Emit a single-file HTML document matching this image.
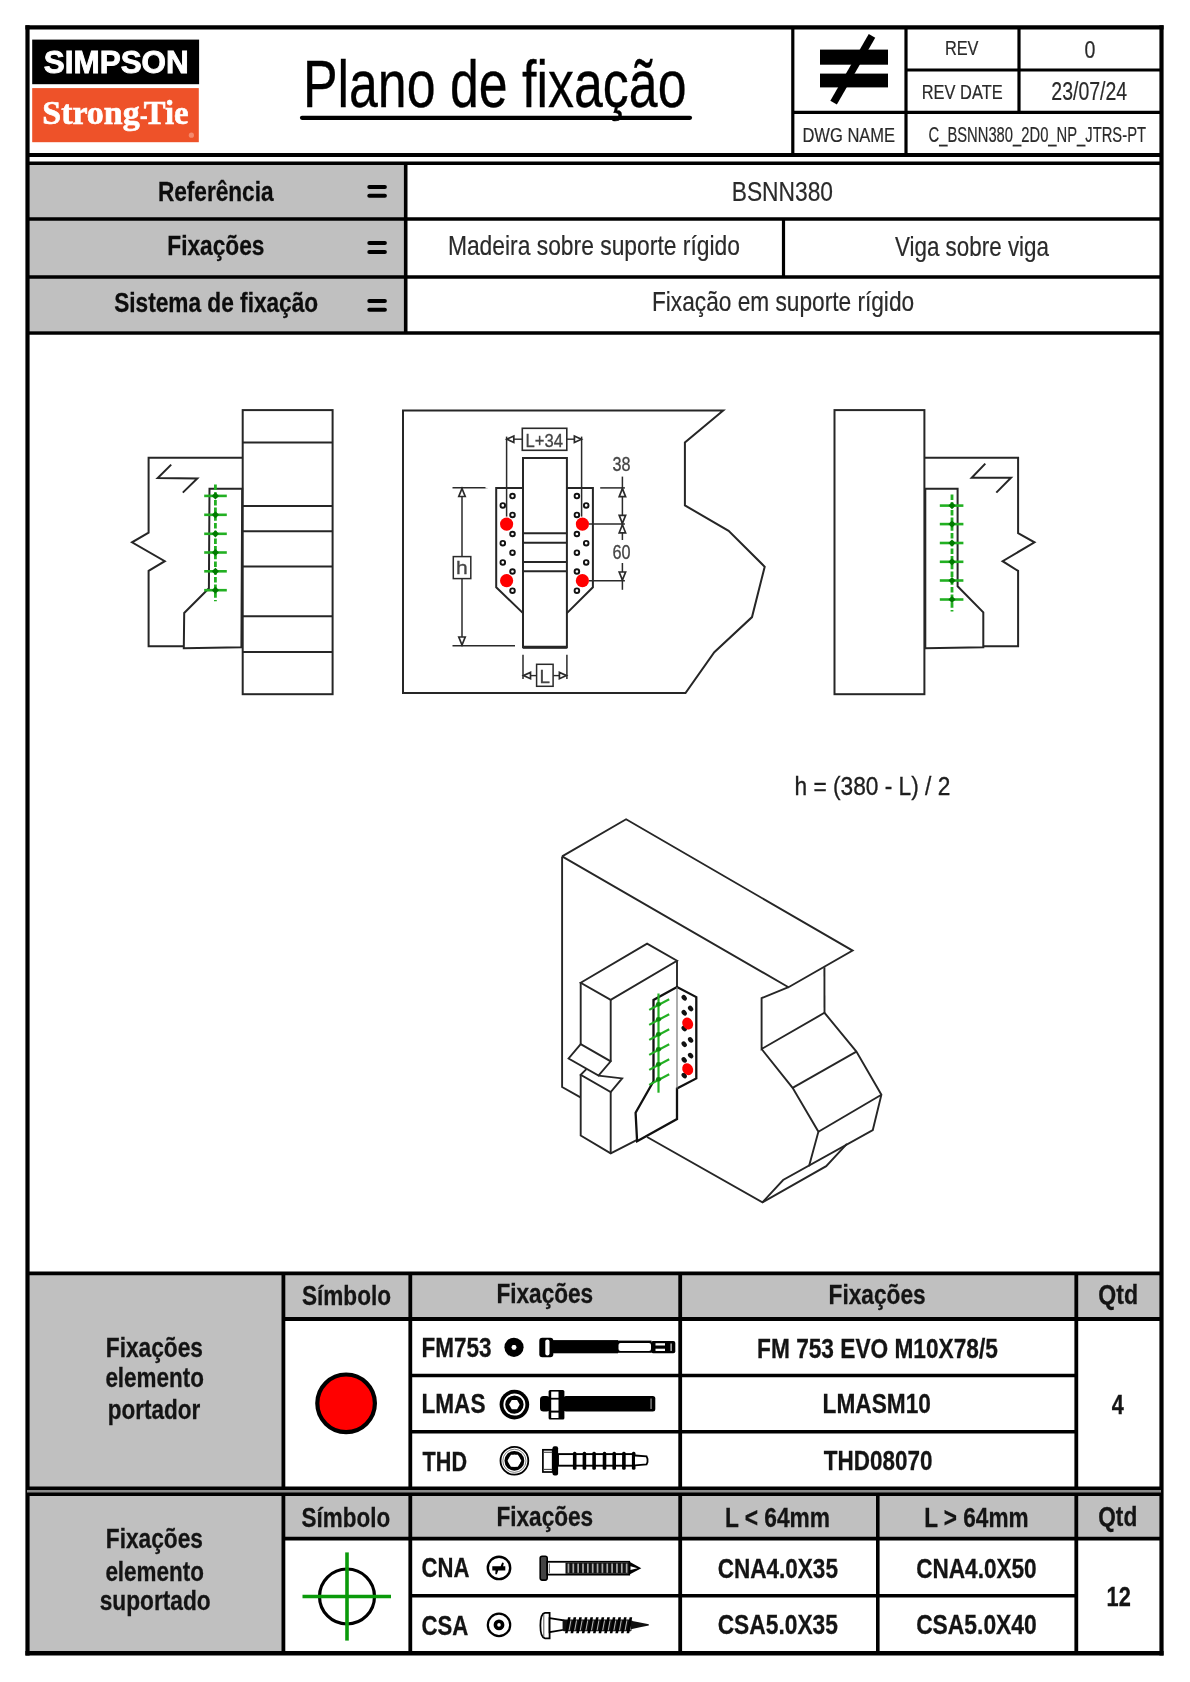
<!DOCTYPE html>
<html><head><meta charset="utf-8"><title>Plano de fixação</title><style>html,body{margin:0;padding:0;background:#fff;}svg{display:block;will-change:transform;}</style></head><body>
<svg width="1190" height="1682" viewBox="0 0 1190 1682">
<rect width="1190" height="1682" fill="#fff"/>
<rect x="29" y="165" width="376" height="166" fill="#c0c0c0" stroke="none" stroke-width="0" />
<rect x="29" y="1275" width="254" height="212" fill="#c0c0c0" stroke="none" stroke-width="0" />
<rect x="283" y="1275" width="878" height="43" fill="#c0c0c0" stroke="none" stroke-width="0" />
<rect x="29" y="1495" width="254" height="157" fill="#c0c0c0" stroke="none" stroke-width="0" />
<rect x="283" y="1495" width="878" height="43" fill="#c0c0c0" stroke="none" stroke-width="0" />
<line x1="27.5" y1="25.3" x2="27.5" y2="1655.5" stroke="#000" stroke-width="4.2" />
<line x1="1161.5" y1="25.3" x2="1161.5" y2="1655.5" stroke="#000" stroke-width="4.2" />
<line x1="25.4" y1="27.4" x2="1163.6" y2="27.4" stroke="#000" stroke-width="4.2" />
<line x1="25.4" y1="1653.2" x2="1163.6" y2="1653.2" stroke="#000" stroke-width="4.5" />
<line x1="792.8" y1="27" x2="792.8" y2="155" stroke="#000" stroke-width="3.2" />
<line x1="906" y1="27" x2="906" y2="155" stroke="#000" stroke-width="3.2" />
<line x1="1019" y1="27" x2="1019" y2="112.4" stroke="#000" stroke-width="3.2" />
<line x1="906" y1="70" x2="1161" y2="70" stroke="#000" stroke-width="3.2" />
<line x1="792.8" y1="112.4" x2="1161" y2="112.4" stroke="#000" stroke-width="3.2" />
<line x1="27" y1="155" x2="1161" y2="155" stroke="#000" stroke-width="3.8" />
<line x1="27" y1="163.3" x2="1161" y2="163.3" stroke="#000" stroke-width="3.4" />
<line x1="27" y1="219" x2="1161" y2="219" stroke="#000" stroke-width="3.6" />
<line x1="27" y1="277" x2="1161" y2="277" stroke="#000" stroke-width="3.6" />
<line x1="27" y1="333" x2="1161" y2="333" stroke="#000" stroke-width="3.6" />
<line x1="405.7" y1="163" x2="405.7" y2="333" stroke="#000" stroke-width="3.6" />
<line x1="783.5" y1="219" x2="783.5" y2="277" stroke="#000" stroke-width="3.2" />
<rect x="32.2" y="39.6" width="166.9" height="44.6" fill="#000" stroke="none" stroke-width="0" />
<rect x="32.2" y="88.1" width="166.6" height="54.1" fill="#ee5229" stroke="none" stroke-width="0" />
<text x="43.84" y="73.00" font-family='"Liberation Sans", sans-serif' font-size="31.00" font-weight="bold" fill="#fff" stroke="#fff" stroke-width="0.9" textLength="144.94" lengthAdjust="spacingAndGlyphs" >SIMPSON</text>
<text x="42.29" y="124.30" font-family='"Liberation Serif", serif' font-size="33.80" font-weight="bold" fill="#fff" stroke="#fff" stroke-width="0.7" textLength="97.31" lengthAdjust="spacingAndGlyphs" >Strong</text>
<text x="143.74" y="124.30" font-family='"Liberation Serif", serif' font-size="33.80" font-weight="bold" fill="#fff" stroke="#fff" stroke-width="0.7" textLength="44.66" lengthAdjust="spacingAndGlyphs" >Tie</text>
<rect x="140.4" y="116.2" width="6.6" height="3.0" fill="#fff" stroke="none" stroke-width="0" />
<circle cx="191.4" cy="135.2" r="2.6" fill="#f48a6e" stroke="none" stroke-width="0" />
<text x="302.88" y="107.10" font-family='"Liberation Sans", sans-serif' font-size="65.80" font-weight="normal" fill="#000" stroke="#000" stroke-width="0.35" textLength="383.65" lengthAdjust="spacingAndGlyphs" >Plano de fixação</text>
<line x1="302" y1="117.8" x2="690" y2="117.8" stroke="#000" stroke-width="4.2" stroke-linecap="round"/>
<rect x="820" y="49.6" width="68" height="15.1" fill="#000" stroke="none" stroke-width="0" />
<rect x="820" y="73.6" width="68" height="13.8" fill="#000" stroke="none" stroke-width="0" />
<line x1="872" y1="35.8" x2="833.6" y2="102.6" stroke="#000" stroke-width="7.5" />
<text x="944.88" y="55.00" font-family='"Liberation Sans", sans-serif' font-size="19.90" font-weight="normal" fill="#2a2a2a" stroke="#2a2a2a" stroke-width="0.2" textLength="33.65" lengthAdjust="spacingAndGlyphs" >REV</text>
<text x="1084.52" y="57.60" font-family='"Liberation Sans", sans-serif' font-size="24.00" font-weight="normal" fill="#2a2a2a" stroke="#2a2a2a" stroke-width="0.2" textLength="10.89" lengthAdjust="spacingAndGlyphs" >0</text>
<text x="921.78" y="99.20" font-family='"Liberation Sans", sans-serif' font-size="19.90" font-weight="normal" fill="#2a2a2a" stroke="#2a2a2a" stroke-width="0.2" textLength="80.85" lengthAdjust="spacingAndGlyphs" >REV DATE</text>
<text x="1051.35" y="99.60" font-family='"Liberation Sans", sans-serif' font-size="25.70" font-weight="normal" fill="#2a2a2a" stroke="#2a2a2a" stroke-width="0.2" textLength="75.80" lengthAdjust="spacingAndGlyphs" >23/07/24</text>
<text x="802.43" y="142.00" font-family='"Liberation Sans", sans-serif' font-size="20.90" font-weight="normal" fill="#2a2a2a" stroke="#2a2a2a" stroke-width="0.2" textLength="92.71" lengthAdjust="spacingAndGlyphs" >DWG NAME</text>
<text x="928.50" y="142.00" font-family='"Liberation Sans", sans-serif' font-size="22.50" font-weight="normal" fill="#2a2a2a" stroke="#2a2a2a" stroke-width="0.2" textLength="217.51" lengthAdjust="spacingAndGlyphs" >C_BSNN380_2D0_NP_JTRS-PT</text>
<text x="157.90" y="201.20" font-family='"Liberation Sans", sans-serif' font-size="28.30" font-weight="bold" fill="#0d0d0d" stroke="#0d0d0d" stroke-width="0.3" textLength="115.64" lengthAdjust="spacingAndGlyphs" >Referência</text>
<text x="167.30" y="255.00" font-family='"Liberation Sans", sans-serif' font-size="28.30" font-weight="bold" fill="#0d0d0d" stroke="#0d0d0d" stroke-width="0.3" textLength="97.15" lengthAdjust="spacingAndGlyphs" >Fixações</text>
<text x="114.21" y="312.00" font-family='"Liberation Sans", sans-serif' font-size="28.30" font-weight="bold" fill="#0d0d0d" stroke="#0d0d0d" stroke-width="0.3" textLength="203.94" lengthAdjust="spacingAndGlyphs" >Sistema de fixação</text>
<rect x="367.3" y="185.0" width="19.6" height="4.0" fill="#000" stroke="none" stroke-width="0" rx="2"/>
<rect x="367.3" y="193.79999999999998" width="19.6" height="4.0" fill="#000" stroke="none" stroke-width="0" rx="2"/>
<rect x="367.3" y="241.10000000000002" width="19.6" height="4.0" fill="#000" stroke="none" stroke-width="0" rx="2"/>
<rect x="367.3" y="249.9" width="19.6" height="4.0" fill="#000" stroke="none" stroke-width="0" rx="2"/>
<rect x="367.3" y="299.0" width="19.6" height="4.0" fill="#000" stroke="none" stroke-width="0" rx="2"/>
<rect x="367.3" y="307.8" width="19.6" height="4.0" fill="#000" stroke="none" stroke-width="0" rx="2"/>
<text x="731.68" y="200.80" font-family='"Liberation Sans", sans-serif' font-size="28.00" font-weight="normal" fill="#2a2a2a" stroke="#2a2a2a" stroke-width="0.2" textLength="101.38" lengthAdjust="spacingAndGlyphs" >BSNN380</text>
<text x="447.88" y="255.00" font-family='"Liberation Sans", sans-serif' font-size="28.30" font-weight="normal" fill="#2a2a2a" stroke="#2a2a2a" stroke-width="0.2" textLength="292.05" lengthAdjust="spacingAndGlyphs" >Madeira sobre suporte rígido</text>
<text x="894.90" y="256.00" font-family='"Liberation Sans", sans-serif' font-size="28.30" font-weight="normal" fill="#2a2a2a" stroke="#2a2a2a" stroke-width="0.2" textLength="154.15" lengthAdjust="spacingAndGlyphs" >Viga sobre viga</text>
<text x="651.99" y="311.00" font-family='"Liberation Sans", sans-serif' font-size="28.30" font-weight="normal" fill="#2a2a2a" stroke="#2a2a2a" stroke-width="0.2" textLength="262.16" lengthAdjust="spacingAndGlyphs" >Fixação em suporte rígido</text>
<rect x="242.7" y="410.1" width="89.9" height="284.1" fill="none" stroke="#262626" stroke-width="2.0" />
<line x1="242.7" y1="442.4" x2="332.6" y2="442.4" stroke="#262626" stroke-width="2.0" />
<line x1="242.7" y1="506.1" x2="332.6" y2="506.1" stroke="#262626" stroke-width="2.0" />
<line x1="242.7" y1="531.3" x2="332.6" y2="531.3" stroke="#262626" stroke-width="2.0" />
<line x1="242.7" y1="566.6" x2="332.6" y2="566.6" stroke="#262626" stroke-width="2.0" />
<line x1="242.7" y1="616.3" x2="332.6" y2="616.3" stroke="#262626" stroke-width="2.0" />
<line x1="242.7" y1="652.1" x2="332.6" y2="652.1" stroke="#262626" stroke-width="2.0" />
<polyline points="242.7,457.8 148.6,457.8 148.6,532.6 132,542.3 164.8,561.2 148.6,570.9 148.6,646.3 183.8,646.3" fill="none" stroke="#262626" stroke-width="2.0" stroke-linejoin="miter" />
<polygon points="183.8,648.2 184.2,613 208.9,588.3 209.5,488.7 242.2,488.7 241.4,647.2" fill="none" stroke="#262626" stroke-width="2.0" stroke-linejoin="miter" />
<polyline points="171.2,464.6 157.7,478.1 197.3,478.5 182.8,492.6" fill="none" stroke="#262626" stroke-width="2.0" stroke-linejoin="miter" />
<line x1="215.4" y1="484.5" x2="215.4" y2="601.2" stroke="#22b022" stroke-width="2.8" stroke-dasharray="5.5,2.2"/>
<line x1="204.2" y1="495.9" x2="226.8" y2="495.9" stroke="#22b022" stroke-width="2.6" />
<polygon points="211.8,495.9 215.4,492.29999999999995 219.0,495.9 215.4,499.5" fill="#007a00"/>
<line x1="204.2" y1="514.8" x2="226.8" y2="514.8" stroke="#22b022" stroke-width="2.6" />
<polygon points="211.8,514.8 215.4,511.19999999999993 219.0,514.8 215.4,518.4" fill="#007a00"/>
<line x1="204.2" y1="533.8" x2="226.8" y2="533.8" stroke="#22b022" stroke-width="2.6" />
<polygon points="211.8,533.8 215.4,530.1999999999999 219.0,533.8 215.4,537.4" fill="#007a00"/>
<line x1="204.2" y1="552.5" x2="226.8" y2="552.5" stroke="#22b022" stroke-width="2.6" />
<polygon points="211.8,552.5 215.4,548.9 219.0,552.5 215.4,556.1" fill="#007a00"/>
<line x1="204.2" y1="571.3" x2="226.8" y2="571.3" stroke="#22b022" stroke-width="2.6" />
<polygon points="211.8,571.3 215.4,567.6999999999999 219.0,571.3 215.4,574.9" fill="#007a00"/>
<line x1="204.2" y1="590.2" x2="226.8" y2="590.2" stroke="#22b022" stroke-width="2.6" />
<polygon points="211.8,590.2 215.4,586.6 219.0,590.2 215.4,593.8000000000001" fill="#007a00"/>
<polygon points="403,410.5 723.2,410.5 684.9,442.5 684.9,505.4 728.6,530.9 764.7,566.7 752,617.1 714.3,652.2 685.5,693.1 403,693.1" fill="none" stroke="#262626" stroke-width="2.0" stroke-linejoin="miter" />
<rect x="523" y="458" width="43.9" height="189.3" fill="none" stroke="#262626" stroke-width="2.0" />
<line x1="523" y1="647.3" x2="566.9" y2="647.3" stroke="#262626" stroke-width="3" />
<line x1="523" y1="533.2" x2="566.9" y2="533.2" stroke="#262626" stroke-width="2.0" />
<line x1="523" y1="542.7" x2="566.9" y2="542.7" stroke="#262626" stroke-width="2.0" />
<line x1="523" y1="561.9" x2="566.9" y2="561.9" stroke="#262626" stroke-width="2.0" />
<line x1="523" y1="571.2" x2="566.9" y2="571.2" stroke="#262626" stroke-width="2.0" />
<polyline points="523,487.9 496.2,487.9 496.2,587.3 523,613.1" fill="none" stroke="#262626" stroke-width="2.0" stroke-linejoin="miter" />
<polyline points="566.9,487.9 592.9,487.9 592.9,587.3 566.9,613.1" fill="none" stroke="#262626" stroke-width="2.0" stroke-linejoin="miter" />
<circle cx="512.5" cy="496.1" r="2.3" fill="#fff" stroke="#111" stroke-width="1.9" />
<circle cx="502.8" cy="505.4" r="2.3" fill="#fff" stroke="#111" stroke-width="1.9" />
<circle cx="512.5" cy="514.9" r="2.3" fill="#fff" stroke="#111" stroke-width="1.9" />
<circle cx="512.5" cy="534" r="2.3" fill="#fff" stroke="#111" stroke-width="1.9" />
<circle cx="502.8" cy="543.2" r="2.3" fill="#fff" stroke="#111" stroke-width="1.9" />
<circle cx="512.5" cy="552.7" r="2.3" fill="#fff" stroke="#111" stroke-width="1.9" />
<circle cx="502.8" cy="562.4" r="2.3" fill="#fff" stroke="#111" stroke-width="1.9" />
<circle cx="512.5" cy="571.5" r="2.3" fill="#fff" stroke="#111" stroke-width="1.9" />
<circle cx="512.5" cy="590.7" r="2.3" fill="#fff" stroke="#111" stroke-width="1.9" />
<circle cx="576.9" cy="496.1" r="2.3" fill="#fff" stroke="#111" stroke-width="1.9" />
<circle cx="586.2" cy="505.4" r="2.3" fill="#fff" stroke="#111" stroke-width="1.9" />
<circle cx="576.9" cy="514.9" r="2.3" fill="#fff" stroke="#111" stroke-width="1.9" />
<circle cx="576.9" cy="534" r="2.3" fill="#fff" stroke="#111" stroke-width="1.9" />
<circle cx="586.2" cy="543.2" r="2.3" fill="#fff" stroke="#111" stroke-width="1.9" />
<circle cx="576.9" cy="552.7" r="2.3" fill="#fff" stroke="#111" stroke-width="1.9" />
<circle cx="586.2" cy="562.4" r="2.3" fill="#fff" stroke="#111" stroke-width="1.9" />
<circle cx="576.9" cy="571.5" r="2.3" fill="#fff" stroke="#111" stroke-width="1.9" />
<circle cx="576.9" cy="590.7" r="2.3" fill="#fff" stroke="#111" stroke-width="1.9" />
<circle cx="506.6" cy="524.1" r="6.6" fill="#f00" stroke="none" stroke-width="0" />
<circle cx="506.6" cy="580.7" r="6.6" fill="#f00" stroke="none" stroke-width="0" />
<circle cx="582.4" cy="524.1" r="6.6" fill="#f00" stroke="none" stroke-width="0" />
<circle cx="582.4" cy="580.7" r="6.6" fill="#f00" stroke="none" stroke-width="0" />
<rect x="522.3" y="428.3" width="44.5" height="22" fill="none" stroke="#2a2a2a" stroke-width="1.6" />
<text x="525.43" y="447.00" font-family='"Liberation Sans", sans-serif' font-size="18.00" font-weight="normal" fill="#444" stroke="#444" stroke-width="0.3" textLength="37.47" lengthAdjust="spacingAndGlyphs" >L+34</text>
<line x1="506.6" y1="436.6" x2="506.6" y2="516.6" stroke="#2a2a2a" stroke-width="1.5" />
<line x1="581.6" y1="436.6" x2="581.6" y2="516.6" stroke="#2a2a2a" stroke-width="1.5" />
<line x1="506.6" y1="439.2" x2="522.3" y2="439.2" stroke="#2a2a2a" stroke-width="1.4" />
<line x1="566.8" y1="439.2" x2="581.6" y2="439.2" stroke="#2a2a2a" stroke-width="1.4" />
<polygon points="506.8,439.2 513.8,436.0 513.8,442.4" fill="#fff" stroke="#2a2a2a" stroke-width="1.7" stroke-linejoin="miter" />
<polygon points="581.4,439.2 574.4,442.4 574.4,436.0" fill="#fff" stroke="#2a2a2a" stroke-width="1.7" stroke-linejoin="miter" />
<line x1="462" y1="487.8" x2="462" y2="645.8" stroke="#2a2a2a" stroke-width="1.5" />
<line x1="452.5" y1="487.8" x2="487.6" y2="487.8" stroke="#2a2a2a" stroke-width="1.5" />
<line x1="452.5" y1="645.8" x2="515" y2="645.8" stroke="#2a2a2a" stroke-width="1.5" />
<line x1="485.5" y1="487.8" x2="492" y2="487.8" stroke="#fff" stroke-width="1.5" />
<polygon points="462,488.5 465.2,496.5 458.8,496.5" fill="#fff" stroke="#2a2a2a" stroke-width="1.7" stroke-linejoin="miter" />
<polygon points="462,645 458.8,637.0 465.2,637.0" fill="#fff" stroke="#2a2a2a" stroke-width="1.7" stroke-linejoin="miter" />
<rect x="453.3" y="556.6" width="17.5" height="22" fill="#fff" stroke="#2a2a2a" stroke-width="1.5" />
<text x="456.09" y="574.30" font-family='"Liberation Sans", sans-serif' font-size="18.50" font-weight="normal" fill="#444" stroke="#444" stroke-width="0.3" textLength="11.71" lengthAdjust="spacingAndGlyphs" >h</text>
<line x1="622.4" y1="476.6" x2="622.4" y2="540" stroke="#2a2a2a" stroke-width="1.5" />
<line x1="622.4" y1="563" x2="622.4" y2="589.8" stroke="#2a2a2a" stroke-width="1.5" />
<line x1="600.2" y1="487.9" x2="624.9" y2="487.9" stroke="#2a2a2a" stroke-width="1.5" />
<line x1="589" y1="524.1" x2="624.9" y2="524.1" stroke="#2a2a2a" stroke-width="1.5" />
<line x1="589" y1="580.7" x2="624.9" y2="580.7" stroke="#2a2a2a" stroke-width="1.5" />
<polygon points="622.4,488.6 625.6,496.6 619.1999999999999,496.6" fill="#fff" stroke="#2a2a2a" stroke-width="1.7" stroke-linejoin="miter" />
<polygon points="622.4,523.4 619.1999999999999,515.4 625.6,515.4" fill="#fff" stroke="#2a2a2a" stroke-width="1.7" stroke-linejoin="miter" />
<polygon points="622.4,524.8 625.6,532.8 619.1999999999999,532.8" fill="#fff" stroke="#2a2a2a" stroke-width="1.7" stroke-linejoin="miter" />
<polygon points="622.4,580 619.1999999999999,572.0 625.6,572.0" fill="#fff" stroke="#2a2a2a" stroke-width="1.7" stroke-linejoin="miter" />
<text x="612.55" y="471.00" font-family='"Liberation Sans", sans-serif' font-size="19.50" font-weight="normal" fill="#444" stroke="#444" stroke-width="0.3" textLength="18.01" lengthAdjust="spacingAndGlyphs" >38</text>
<text x="612.47" y="559.20" font-family='"Liberation Sans", sans-serif' font-size="19.50" font-weight="normal" fill="#444" stroke="#444" stroke-width="0.3" textLength="18.07" lengthAdjust="spacingAndGlyphs" >60</text>
<line x1="523" y1="654.8" x2="523" y2="678.9" stroke="#2a2a2a" stroke-width="1.5" />
<line x1="566.9" y1="654.8" x2="566.9" y2="678.9" stroke="#2a2a2a" stroke-width="1.5" />
<polygon points="523.5,675.6 530.5,672.4 530.5,678.8000000000001" fill="#fff" stroke="#2a2a2a" stroke-width="1.7" stroke-linejoin="miter" />
<polygon points="566.4,675.6 559.4,678.8000000000001 559.4,672.4" fill="#fff" stroke="#2a2a2a" stroke-width="1.7" stroke-linejoin="miter" />
<line x1="530" y1="675.6" x2="536.3" y2="675.6" stroke="#2a2a2a" stroke-width="1.4" />
<line x1="553.3" y1="675.6" x2="560" y2="675.6" stroke="#2a2a2a" stroke-width="1.4" />
<rect x="536.6" y="664.3" width="16.5" height="22" fill="none" stroke="#2a2a2a" stroke-width="1.5" />
<text x="539.61" y="683.00" font-family='"Liberation Sans", sans-serif' font-size="18.50" font-weight="normal" fill="#444" stroke="#444" stroke-width="0.3" textLength="10.48" lengthAdjust="spacingAndGlyphs" >L</text>
<rect x="834.5" y="410.1" width="89.9" height="284.1" fill="none" stroke="#262626" stroke-width="2.0" />
<polyline points="924.4,457.8 1018.1,457.8 1018.1,533.2 1034.5,542.3 1002.6,561.2 1018.1,570.9 1018.1,646.3 983.3,646.3" fill="none" stroke="#262626" stroke-width="2.0" stroke-linejoin="miter" />
<polygon points="925.3,488.7 957.6,488.7 957.6,586.3 983.3,612.4 983.3,647.2 925.3,648.2" fill="none" stroke="#262626" stroke-width="2.0" stroke-linejoin="miter" />
<polyline points="985.3,463.6 971.7,477.7 1011,477.7 996.3,492.6" fill="none" stroke="#262626" stroke-width="2.0" stroke-linejoin="miter" />
<line x1="952" y1="494.5" x2="952" y2="611.5" stroke="#22b022" stroke-width="2.8" stroke-dasharray="5.5,2.2"/>
<line x1="939.8" y1="505.6" x2="963.4" y2="505.6" stroke="#22b022" stroke-width="2.6" />
<polygon points="948.4,505.6 952,502.0 955.6,505.6 952,509.20000000000005" fill="#007a00"/>
<line x1="939.8" y1="524.1" x2="963.4" y2="524.1" stroke="#22b022" stroke-width="2.6" />
<polygon points="948.4,524.1 952,520.5 955.6,524.1 952,527.7" fill="#007a00"/>
<line x1="939.8" y1="543" x2="963.4" y2="543" stroke="#22b022" stroke-width="2.6" />
<polygon points="948.4,543 952,539.4 955.6,543 952,546.6" fill="#007a00"/>
<line x1="939.8" y1="561.8" x2="963.4" y2="561.8" stroke="#22b022" stroke-width="2.6" />
<polygon points="948.4,561.8 952,558.1999999999999 955.6,561.8 952,565.4" fill="#007a00"/>
<line x1="939.8" y1="580.5" x2="963.4" y2="580.5" stroke="#22b022" stroke-width="2.6" />
<polygon points="948.4,580.5 952,576.9 955.6,580.5 952,584.1" fill="#007a00"/>
<line x1="939.8" y1="599.5" x2="963.4" y2="599.5" stroke="#22b022" stroke-width="2.6" />
<polygon points="948.4,599.5 952,595.9 955.6,599.5 952,603.1" fill="#007a00"/>
<text x="794.48" y="794.80" font-family='"Liberation Sans", sans-serif' font-size="26.30" font-weight="normal" fill="#1e1e1e" stroke="#1e1e1e" stroke-width="0.35" textLength="155.83" lengthAdjust="spacingAndGlyphs" >h = (380 - L) / 2</text>
<polyline points="562.1,856.4 626.1,819.3 852.6,950.6 788.5,987.2 562.1,856.4" fill="none" stroke="#262626" stroke-width="1.9" stroke-linejoin="miter" />
<polyline points="562.1,856.4 562.1,1087 580.5,1097.3" fill="none" stroke="#262626" stroke-width="1.9" stroke-linejoin="miter" />
<line x1="824.4" y1="967.2" x2="824.5" y2="1012.8" stroke="#262626" stroke-width="1.9" />
<polyline points="788.5,987.2 761.6,998.1 761.6,1049 824.5,1012.8 856.4,1051.6 881.4,1094.7 872.8,1130 783.1,1180 762.4,1202.4 647.1,1137" fill="none" stroke="#262626" stroke-width="1.9" stroke-linejoin="miter" />
<polyline points="761.6,1049 792.6,1087.8 818.4,1131.7 809,1166.2" fill="none" stroke="#262626" stroke-width="1.9" stroke-linejoin="miter" />
<line x1="792.6" y1="1087.8" x2="856.4" y2="1051.6" stroke="#262626" stroke-width="1.9" />
<line x1="818.4" y1="1131.7" x2="881.4" y2="1094.7" stroke="#262626" stroke-width="1.9" />
<polyline points="846.9,1143.8 826.2,1166.2 762.4,1202.4" fill="none" stroke="#262626" stroke-width="1.9" stroke-linejoin="miter" />
<polygon points="580.7,982.8 647.1,943.6 677,960.7 610.7,999.9 580.7,982.8" fill="#fff" stroke="#262626" stroke-width="1.9" stroke-linejoin="miter" />
<line x1="580.7" y1="982.8" x2="580.7" y2="1044.2" stroke="#262626" stroke-width="1.9" />
<line x1="610.7" y1="999.9" x2="610.7" y2="1061.3" stroke="#262626" stroke-width="1.9" />
<line x1="677" y1="960.7" x2="677" y2="987.1" stroke="#262626" stroke-width="1.9" />
<polyline points="580.7,1044.2 568.6,1058.5 598.5,1075.6 610.7,1061.3 580.7,1044.2" fill="none" stroke="#262626" stroke-width="1.9" stroke-linejoin="miter" />
<polyline points="598.5,1075.6 622.1,1078.4 610.7,1092 580.7,1074.9 586.4,1069.2" fill="none" stroke="#262626" stroke-width="1.9" stroke-linejoin="miter" />
<polyline points="580.7,1074.9 580.7,1135.5 610.7,1153.4 637.1,1139.8" fill="none" stroke="#262626" stroke-width="1.9" stroke-linejoin="miter" />
<line x1="610.7" y1="1092" x2="610.7" y2="1153.4" stroke="#262626" stroke-width="1.9" />
<polygon points="637.1,1141.2 677,1119.1 677,1088.4 696.3,1078.4 696.3,997.1 677,987.1 653.5,999.9 653.5,1081.3 635.6,1112.7 637.1,1141.2" fill="#fff" stroke="#111" stroke-width="2.3" stroke-linejoin="miter" />
<line x1="677" y1="987.1" x2="677" y2="1088.4" stroke="#777" stroke-width="1.2" />
<ellipse cx="684.2" cy="997.8" rx="2.3" ry="3.1" fill="#111" transform="rotate(-40 684.2 997.8)"/>
<ellipse cx="690.6" cy="1008.5" rx="2.3" ry="3.1" fill="#111" transform="rotate(-40 690.6 1008.5)"/>
<ellipse cx="684.2" cy="1012.8" rx="2.3" ry="3.1" fill="#111" transform="rotate(-40 684.2 1012.8)"/>
<ellipse cx="684.2" cy="1028.5" rx="2.3" ry="3.1" fill="#111" transform="rotate(-40 684.2 1028.5)"/>
<ellipse cx="690.6" cy="1039.9" rx="2.3" ry="3.1" fill="#111" transform="rotate(-40 690.6 1039.9)"/>
<ellipse cx="684.2" cy="1044.2" rx="2.3" ry="3.1" fill="#111" transform="rotate(-40 684.2 1044.2)"/>
<ellipse cx="690.6" cy="1055.6" rx="2.3" ry="3.1" fill="#111" transform="rotate(-40 690.6 1055.6)"/>
<ellipse cx="684.2" cy="1059.9" rx="2.3" ry="3.1" fill="#111" transform="rotate(-40 684.2 1059.9)"/>
<ellipse cx="684.2" cy="1075.6" rx="2.3" ry="3.1" fill="#111" transform="rotate(-40 684.2 1075.6)"/>
<ellipse cx="687.7" cy="1023.5" rx="5.2" ry="6.2" fill="#f00" transform="rotate(-30 687.7 1023.5)"/>
<ellipse cx="687.7" cy="1069.2" rx="5.2" ry="6.2" fill="#f00" transform="rotate(-30 687.7 1069.2)"/>
<line x1="658.5" y1="993.5" x2="658.5" y2="1092.7" stroke="#22b022" stroke-width="2.2" />
<line x1="649.2" y1="1009.9000000000001" x2="669.2" y2="999.2" stroke="#22b022" stroke-width="2.2" />
<ellipse cx="658.5" cy="1004.2" rx="2.6" ry="2.2" fill="#0a8a0a"/>
<line x1="649.2" y1="1024.9" x2="669.2" y2="1014.2" stroke="#22b022" stroke-width="2.2" />
<ellipse cx="658.5" cy="1019.2" rx="2.6" ry="2.2" fill="#0a8a0a"/>
<line x1="649.2" y1="1039.9" x2="669.2" y2="1029.2" stroke="#22b022" stroke-width="2.2" />
<ellipse cx="658.5" cy="1034.2" rx="2.6" ry="2.2" fill="#0a8a0a"/>
<line x1="649.2" y1="1054.9" x2="669.2" y2="1044.2" stroke="#22b022" stroke-width="2.2" />
<ellipse cx="658.5" cy="1049.2" rx="2.6" ry="2.2" fill="#0a8a0a"/>
<line x1="649.2" y1="1069.9" x2="669.2" y2="1059.2" stroke="#22b022" stroke-width="2.2" />
<ellipse cx="658.5" cy="1064.2" rx="2.6" ry="2.2" fill="#0a8a0a"/>
<line x1="649.2" y1="1084.9" x2="669.2" y2="1074.2" stroke="#22b022" stroke-width="2.2" />
<ellipse cx="658.5" cy="1079.2" rx="2.6" ry="2.2" fill="#0a8a0a"/>
<line x1="27" y1="1273.4" x2="1161" y2="1273.4" stroke="#000" stroke-width="3.8" />
<line x1="283.4" y1="1273" x2="283.4" y2="1653" stroke="#000" stroke-width="3.8" />
<line x1="410.3" y1="1273" x2="410.3" y2="1653" stroke="#000" stroke-width="3.8" />
<line x1="680.2" y1="1273" x2="680.2" y2="1489" stroke="#000" stroke-width="3.8" />
<line x1="680.2" y1="1494" x2="680.2" y2="1653" stroke="#000" stroke-width="3.8" />
<line x1="1076.3" y1="1273" x2="1076.3" y2="1653" stroke="#000" stroke-width="3.8" />
<line x1="283" y1="1319" x2="1161" y2="1319" stroke="#000" stroke-width="3.8" />
<line x1="410" y1="1375.5" x2="1076" y2="1375.5" stroke="#000" stroke-width="3.6" />
<line x1="410" y1="1431.8" x2="1076" y2="1431.8" stroke="#000" stroke-width="3.6" />
<rect x="27" y="1489" width="1134" height="4.5" fill="#8c8c8c" stroke="none" stroke-width="0" />
<line x1="27" y1="1488.3" x2="1161" y2="1488.3" stroke="#000" stroke-width="3.4" />
<line x1="27" y1="1494.2" x2="1161" y2="1494.2" stroke="#000" stroke-width="3.4" />
<line x1="877.8" y1="1494" x2="877.8" y2="1653" stroke="#000" stroke-width="3.6" />
<line x1="283" y1="1538.7" x2="1161" y2="1538.7" stroke="#000" stroke-width="3.8" />
<line x1="410" y1="1595.8" x2="1076" y2="1595.8" stroke="#000" stroke-width="3.6" />
<text x="301.90" y="1305.30" font-family='"Liberation Sans", sans-serif' font-size="28.20" font-weight="bold" fill="#141414" stroke="#141414" stroke-width="0.3" textLength="89.15" lengthAdjust="spacingAndGlyphs" >Símbolo</text>
<text x="496.40" y="1303.30" font-family='"Liberation Sans", sans-serif' font-size="28.20" font-weight="bold" fill="#141414" stroke="#141414" stroke-width="0.3" textLength="96.79" lengthAdjust="spacingAndGlyphs" >Fixações</text>
<text x="828.60" y="1304.20" font-family='"Liberation Sans", sans-serif' font-size="28.20" font-weight="bold" fill="#141414" stroke="#141414" stroke-width="0.3" textLength="97.00" lengthAdjust="spacingAndGlyphs" >Fixações</text>
<text x="1098.23" y="1304.00" font-family='"Liberation Sans", sans-serif' font-size="28.20" font-weight="bold" fill="#141414" stroke="#141414" stroke-width="0.3" textLength="39.83" lengthAdjust="spacingAndGlyphs" >Qtd</text>
<text x="105.79" y="1357.00" font-family='"Liberation Sans", sans-serif' font-size="28.20" font-weight="bold" fill="#141414" stroke="#141414" stroke-width="0.3" textLength="97.20" lengthAdjust="spacingAndGlyphs" >Fixações</text>
<text x="105.38" y="1386.60" font-family='"Liberation Sans", sans-serif' font-size="28.20" font-weight="bold" fill="#141414" stroke="#141414" stroke-width="0.3" textLength="98.55" lengthAdjust="spacingAndGlyphs" >elemento</text>
<text x="107.70" y="1418.80" font-family='"Liberation Sans", sans-serif' font-size="28.20" font-weight="bold" fill="#141414" stroke="#141414" stroke-width="0.3" textLength="92.62" lengthAdjust="spacingAndGlyphs" >portador</text>
<circle cx="346.1" cy="1403.3" r="28.8" fill="#f00" stroke="#000" stroke-width="4.2" />
<text x="421.41" y="1357.20" font-family='"Liberation Sans", sans-serif' font-size="28.20" font-weight="bold" fill="#141414" stroke="#141414" stroke-width="0.3" textLength="70.00" lengthAdjust="spacingAndGlyphs" >FM753</text>
<text x="421.40" y="1413.40" font-family='"Liberation Sans", sans-serif' font-size="28.20" font-weight="bold" fill="#141414" stroke="#141414" stroke-width="0.3" textLength="64.09" lengthAdjust="spacingAndGlyphs" >LMAS</text>
<text x="422.62" y="1471.30" font-family='"Liberation Sans", sans-serif' font-size="28.20" font-weight="bold" fill="#141414" stroke="#141414" stroke-width="0.3" textLength="44.48" lengthAdjust="spacingAndGlyphs" >THD</text>
<text x="757.10" y="1358.00" font-family='"Liberation Sans", sans-serif' font-size="28.20" font-weight="bold" fill="#141414" stroke="#141414" stroke-width="0.3" textLength="240.75" lengthAdjust="spacingAndGlyphs" >FM 753 EVO M10X78/5</text>
<text x="822.60" y="1412.90" font-family='"Liberation Sans", sans-serif' font-size="28.20" font-weight="bold" fill="#141414" stroke="#141414" stroke-width="0.3" textLength="108.24" lengthAdjust="spacingAndGlyphs" >LMASM10</text>
<text x="823.82" y="1469.90" font-family='"Liberation Sans", sans-serif' font-size="28.20" font-weight="bold" fill="#141414" stroke="#141414" stroke-width="0.3" textLength="108.58" lengthAdjust="spacingAndGlyphs" >THD08070</text>
<text x="1111.78" y="1413.60" font-family='"Liberation Sans", sans-serif' font-size="28.20" font-weight="bold" fill="#141414" stroke="#141414" stroke-width="0.3" textLength="12.01" lengthAdjust="spacingAndGlyphs" >4</text>
<circle cx="514" cy="1347.3" r="9.6" fill="#000" stroke="none" stroke-width="0" />
<polygon points="516.70,1347.30 515.35,1349.64 512.65,1349.64 511.30,1347.30 512.65,1344.96 515.35,1344.96" fill="#fff"/>
<rect x="539.3" y="1337.8" width="14" height="19.4" fill="#000" stroke="none" stroke-width="0" rx="3"/>
<rect x="545.3" y="1339.6" width="4.2" height="15.8" fill="#fff" stroke="none" stroke-width="0" rx="2"/>
<rect x="553" y="1340.1" width="65" height="13.2" fill="#000" stroke="none" stroke-width="0" />
<rect x="617.5" y="1340.6" width="34" height="12.2" fill="#000" stroke="none" stroke-width="0" />
<rect x="618.5" y="1342.9" width="32.5" height="8" fill="#fff" stroke="none" stroke-width="0" rx="2"/>
<rect x="651" y="1340.9" width="24.3" height="12.4" fill="#000" stroke="none" stroke-width="0" rx="2"/>
<rect x="655.5" y="1343.2" width="9.5" height="2.3" fill="#fff" stroke="none" stroke-width="0" />
<rect x="655.5" y="1348.7" width="9.5" height="2.3" fill="#fff" stroke="none" stroke-width="0" />
<rect x="670.5" y="1343.5" width="1.2" height="7.5" fill="#ddd" stroke="none" stroke-width="0" />
<circle cx="514.4" cy="1404.6" r="14.8" fill="#000" stroke="none" stroke-width="0" />
<circle cx="514.4" cy="1404.6" r="10.1" fill="none" stroke="#fff" stroke-width="1.8" />
<polygon points="519.70,1404.60 517.05,1409.19 511.75,1409.19 509.10,1404.60 511.75,1400.01 517.05,1400.01" fill="#fff"/>
<rect x="540" y="1396" width="10" height="15.6" fill="#000" stroke="none" stroke-width="0" rx="3.5"/>
<rect x="548.6" y="1389.9" width="15.8" height="29.5" fill="#000" stroke="none" stroke-width="0" rx="1.5"/>
<rect x="551.2" y="1391.6" width="7.3" height="6.2" fill="#fff" stroke="none" stroke-width="0" />
<rect x="551.2" y="1399.6" width="7.3" height="11.0" fill="#fff" stroke="none" stroke-width="0" />
<rect x="551.2" y="1412.6" width="7.3" height="5.4" fill="#fff" stroke="none" stroke-width="0" />
<rect x="563.5" y="1396" width="91.8" height="15.6" fill="#000" stroke="none" stroke-width="0" rx="2.5"/>
<rect x="650.5" y="1398.5" width="1.1" height="10.5" fill="#aaa" stroke="none" stroke-width="0" />
<circle cx="514.4" cy="1460.8" r="13.9" fill="none" stroke="#000" stroke-width="1.8" />
<circle cx="514.4" cy="1460.8" r="11.6" fill="none" stroke="#777" stroke-width="0.9" />
<circle cx="514.4" cy="1460.8" r="9.9" fill="#000" stroke="none" stroke-width="0" />
<polygon points="521.30,1460.80 517.85,1466.78 510.95,1466.78 507.50,1460.80 510.95,1454.82 517.85,1454.82" fill="#fff"/>
<circle cx="514.4" cy="1460.8" r="6.0" fill="#fff" stroke="none" stroke-width="0" />
<rect x="542.9" y="1449.8" width="9.8" height="22.2" fill="#fff" stroke="#000" stroke-width="1.7" />
<line x1="543" y1="1452.3" x2="552.5" y2="1452.3" stroke="#444" stroke-width="1.1" />
<line x1="543" y1="1469.4" x2="552.5" y2="1469.4" stroke="#444" stroke-width="1.1" />
<rect x="552.5" y="1446.2" width="5.6" height="29.2" fill="#000" stroke="none" stroke-width="0" rx="2"/>
<rect x="558" y="1454.1" width="76" height="11.6" fill="#fff" stroke="#000" stroke-width="1.9" />
<rect x="572.9000000000001" y="1451.8" width="3.6" height="18" fill="#000" stroke="none" stroke-width="0" rx="1.6"/>
<rect x="582.6" y="1451.8" width="3.6" height="18" fill="#000" stroke="none" stroke-width="0" rx="1.6"/>
<rect x="592.3000000000001" y="1451.8" width="3.6" height="18" fill="#000" stroke="none" stroke-width="0" rx="1.6"/>
<rect x="602.7" y="1451.8" width="3.6" height="18" fill="#000" stroke="none" stroke-width="0" rx="1.6"/>
<rect x="612.4000000000001" y="1451.8" width="3.6" height="18" fill="#000" stroke="none" stroke-width="0" rx="1.6"/>
<rect x="622.1" y="1451.8" width="3.6" height="18" fill="#000" stroke="none" stroke-width="0" rx="1.6"/>
<rect x="631.9000000000001" y="1451.8" width="3.6" height="18" fill="#000" stroke="none" stroke-width="0" rx="1.6"/>
<polyline points="635,1455.5 646.5,1456.3 647.5,1459 647.5,1462 646.5,1464.5 635,1465.3" fill="#fff" stroke="#000" stroke-width="1.8" stroke-linejoin="miter" />
<text x="301.61" y="1526.80" font-family='"Liberation Sans", sans-serif' font-size="28.20" font-weight="bold" fill="#141414" stroke="#141414" stroke-width="0.3" textLength="88.64" lengthAdjust="spacingAndGlyphs" >Símbolo</text>
<text x="496.40" y="1525.50" font-family='"Liberation Sans", sans-serif' font-size="28.20" font-weight="bold" fill="#141414" stroke="#141414" stroke-width="0.3" textLength="96.79" lengthAdjust="spacingAndGlyphs" >Fixações</text>
<text x="724.89" y="1527.00" font-family='"Liberation Sans", sans-serif' font-size="28.20" font-weight="bold" fill="#141414" stroke="#141414" stroke-width="0.3" textLength="105.17" lengthAdjust="spacingAndGlyphs" >L &lt; 64mm</text>
<text x="924.20" y="1527.00" font-family='"Liberation Sans", sans-serif' font-size="28.20" font-weight="bold" fill="#141414" stroke="#141414" stroke-width="0.3" textLength="104.35" lengthAdjust="spacingAndGlyphs" >L &gt; 64mm</text>
<text x="1098.25" y="1526.20" font-family='"Liberation Sans", sans-serif' font-size="28.20" font-weight="bold" fill="#141414" stroke="#141414" stroke-width="0.3" textLength="38.98" lengthAdjust="spacingAndGlyphs" >Qtd</text>
<text x="105.79" y="1548.30" font-family='"Liberation Sans", sans-serif' font-size="28.20" font-weight="bold" fill="#141414" stroke="#141414" stroke-width="0.3" textLength="97.20" lengthAdjust="spacingAndGlyphs" >Fixações</text>
<text x="105.38" y="1580.60" font-family='"Liberation Sans", sans-serif' font-size="28.20" font-weight="bold" fill="#141414" stroke="#141414" stroke-width="0.3" textLength="98.55" lengthAdjust="spacingAndGlyphs" >elemento</text>
<text x="99.66" y="1610.10" font-family='"Liberation Sans", sans-serif' font-size="28.20" font-weight="bold" fill="#141414" stroke="#141414" stroke-width="0.3" textLength="111.02" lengthAdjust="spacingAndGlyphs" >suportado</text>
<text x="421.47" y="1576.90" font-family='"Liberation Sans", sans-serif' font-size="28.20" font-weight="bold" fill="#141414" stroke="#141414" stroke-width="0.3" textLength="47.91" lengthAdjust="spacingAndGlyphs" >CNA</text>
<text x="421.46" y="1635.20" font-family='"Liberation Sans", sans-serif' font-size="28.20" font-weight="bold" fill="#141414" stroke="#141414" stroke-width="0.3" textLength="46.91" lengthAdjust="spacingAndGlyphs" >CSA</text>
<text x="717.65" y="1577.60" font-family='"Liberation Sans", sans-serif' font-size="28.20" font-weight="bold" fill="#141414" stroke="#141414" stroke-width="0.3" textLength="120.30" lengthAdjust="spacingAndGlyphs" >CNA4.0X35</text>
<text x="916.15" y="1577.60" font-family='"Liberation Sans", sans-serif' font-size="28.20" font-weight="bold" fill="#141414" stroke="#141414" stroke-width="0.3" textLength="120.53" lengthAdjust="spacingAndGlyphs" >CNA4.0X50</text>
<text x="717.64" y="1634.20" font-family='"Liberation Sans", sans-serif' font-size="28.20" font-weight="bold" fill="#141414" stroke="#141414" stroke-width="0.3" textLength="120.28" lengthAdjust="spacingAndGlyphs" >CSA5.0X35</text>
<text x="916.14" y="1634.20" font-family='"Liberation Sans", sans-serif' font-size="28.20" font-weight="bold" fill="#141414" stroke="#141414" stroke-width="0.3" textLength="120.63" lengthAdjust="spacingAndGlyphs" >CSA5.0X40</text>
<text x="1106.61" y="1605.50" font-family='"Liberation Sans", sans-serif' font-size="28.20" font-weight="bold" fill="#141414" stroke="#141414" stroke-width="0.3" textLength="24.21" lengthAdjust="spacingAndGlyphs" >12</text>
<circle cx="347" cy="1596.5" r="27.5" fill="none" stroke="#000" stroke-width="3.2" />
<line x1="302.5" y1="1596.5" x2="391" y2="1596.5" stroke="#0a9a0a" stroke-width="3.6" />
<line x1="347" y1="1552.4" x2="347" y2="1640.6" stroke="#0a9a0a" stroke-width="3.6" />
<circle cx="499" cy="1567.9" r="11.2" fill="#fff" stroke="#000" stroke-width="2.4" />
<path d="M492.3,1566.2 L500.6,1566.2 L502.2,1562.4 L503.8,1563.1 L503.1,1566.2 L505.3,1566.2 L505.3,1570.6 L498.2,1570.6 L496.9,1574.2 L495.3,1574.2 L495.5,1570.6 L492.3,1570.6 Z" fill="#000"/>
<rect x="540.2" y="1556.3" width="7" height="23.8" fill="#444" stroke="#000" stroke-width="1.6" rx="2"/>
<rect x="547.2" y="1561.8" width="82" height="12.8" fill="#fff" stroke="#000" stroke-width="1.8" />
<line x1="549.5" y1="1563.5" x2="549.5" y2="1573" stroke="#777" stroke-width="1" />
<rect x="565.5" y="1562.6" width="63.5" height="11.2" fill="#111" stroke="none" stroke-width="0" />
<rect x="567.6" y="1563.6" width="1.7" height="9.2" fill="#aaa" stroke="none" stroke-width="0" />
<rect x="572.45" y="1563.6" width="1.7" height="9.2" fill="#aaa" stroke="none" stroke-width="0" />
<rect x="577.3000000000001" y="1563.6" width="1.7" height="9.2" fill="#aaa" stroke="none" stroke-width="0" />
<rect x="582.15" y="1563.6" width="1.7" height="9.2" fill="#aaa" stroke="none" stroke-width="0" />
<rect x="587.0" y="1563.6" width="1.7" height="9.2" fill="#aaa" stroke="none" stroke-width="0" />
<rect x="591.85" y="1563.6" width="1.7" height="9.2" fill="#aaa" stroke="none" stroke-width="0" />
<rect x="596.7" y="1563.6" width="1.7" height="9.2" fill="#aaa" stroke="none" stroke-width="0" />
<rect x="601.5500000000001" y="1563.6" width="1.7" height="9.2" fill="#aaa" stroke="none" stroke-width="0" />
<rect x="606.4" y="1563.6" width="1.7" height="9.2" fill="#aaa" stroke="none" stroke-width="0" />
<rect x="611.25" y="1563.6" width="1.7" height="9.2" fill="#aaa" stroke="none" stroke-width="0" />
<rect x="616.1" y="1563.6" width="1.7" height="9.2" fill="#aaa" stroke="none" stroke-width="0" />
<rect x="620.95" y="1563.6" width="1.7" height="9.2" fill="#aaa" stroke="none" stroke-width="0" />
<rect x="625.8000000000001" y="1563.6" width="1.7" height="9.2" fill="#aaa" stroke="none" stroke-width="0" />
<path d="M629,1561.6 L641.3,1568.2 L629,1574.8 Z" fill="#000"/>
<path d="M630.5,1566.3 L637.5,1568.2 L630.5,1570.1 Z" fill="#fff"/>
<circle cx="499" cy="1624.9" r="11.2" fill="#fff" stroke="#000" stroke-width="2.2" />
<circle cx="499" cy="1624.9" r="3.6" fill="none" stroke="#000" stroke-width="3.6" />
<path d="M549.6,1612.9 L545,1612.9 Q540.4,1613.5 540.4,1625.6 Q540.4,1637.8 545,1638.4 L549.6,1638.4 Z" fill="#fff" stroke="#000" stroke-width="1.8"/>
<line x1="543.8" y1="1614.5" x2="543.8" y2="1636.8" stroke="#555" stroke-width="1" />
<path d="M549.6,1618.2 L563.5,1620.3 L563.5,1629.8 L549.6,1632.2 Z" fill="#fff" stroke="#000" stroke-width="1.8"/>
<rect x="563" y="1619.4" width="68.5" height="11.8" fill="#111" stroke="none" stroke-width="0" rx="1"/>
<path d="M565.0,1633.3 L567.6,1633.3 L570.6,1617.2 L568.0,1617.2 Z" fill="#000"/>
<path d="M568.6,1630.2 L569.6,1630.2 L571.4,1620.5 L570.4,1620.5 Z" fill="#bbb"/>
<path d="M570.6,1633.3 L573.2,1633.3 L576.2,1617.2 L573.6,1617.2 Z" fill="#000"/>
<path d="M574.2,1630.2 L575.2,1630.2 L577.0,1620.5 L576.0,1620.5 Z" fill="#bbb"/>
<path d="M576.2,1633.3 L578.8,1633.3 L581.8,1617.2 L579.2,1617.2 Z" fill="#000"/>
<path d="M579.8,1630.2 L580.8,1630.2 L582.6,1620.5 L581.6,1620.5 Z" fill="#bbb"/>
<path d="M581.8,1633.3 L584.4,1633.3 L587.4,1617.2 L584.8,1617.2 Z" fill="#000"/>
<path d="M585.4,1630.2 L586.4,1630.2 L588.2,1620.5 L587.2,1620.5 Z" fill="#bbb"/>
<path d="M587.4,1633.3 L590.0,1633.3 L593.0,1617.2 L590.4,1617.2 Z" fill="#000"/>
<path d="M591.0,1630.2 L592.0,1630.2 L593.8,1620.5 L592.8,1620.5 Z" fill="#bbb"/>
<path d="M593.0,1633.3 L595.6,1633.3 L598.6,1617.2 L596.0,1617.2 Z" fill="#000"/>
<path d="M596.6,1630.2 L597.6,1630.2 L599.4,1620.5 L598.4,1620.5 Z" fill="#bbb"/>
<path d="M598.6,1633.3 L601.2,1633.3 L604.2,1617.2 L601.6,1617.2 Z" fill="#000"/>
<path d="M602.2,1630.2 L603.2,1630.2 L605.0,1620.5 L604.0,1620.5 Z" fill="#bbb"/>
<path d="M604.2,1633.3 L606.8,1633.3 L609.8,1617.2 L607.2,1617.2 Z" fill="#000"/>
<path d="M607.8,1630.2 L608.8,1630.2 L610.6,1620.5 L609.6,1620.5 Z" fill="#bbb"/>
<path d="M609.8,1633.3 L612.4,1633.3 L615.4,1617.2 L612.8,1617.2 Z" fill="#000"/>
<path d="M613.4,1630.2 L614.4,1630.2 L616.2,1620.5 L615.2,1620.5 Z" fill="#bbb"/>
<path d="M615.4,1633.3 L618.0,1633.3 L621.0,1617.2 L618.4,1617.2 Z" fill="#000"/>
<path d="M619.0,1630.2 L620.0,1630.2 L621.8,1620.5 L620.8,1620.5 Z" fill="#bbb"/>
<path d="M621.0,1633.3 L623.6,1633.3 L626.6,1617.2 L624.0,1617.2 Z" fill="#000"/>
<path d="M624.6,1630.2 L625.6,1630.2 L627.4,1620.5 L626.4,1620.5 Z" fill="#bbb"/>
<path d="M626.6,1633.3 L629.2,1633.3 L632.2,1617.2 L629.6,1617.2 Z" fill="#000"/>
<path d="M630.2,1630.2 L631.2,1630.2 L633.0,1620.5 L632.0,1620.5 Z" fill="#bbb"/>
<path d="M631,1620.8 L640,1622.6 L648.8,1624.3 L648.8,1625.6 L640,1627.2 L631,1629.2 Z" fill="#111"/>
</svg>
</body></html>
